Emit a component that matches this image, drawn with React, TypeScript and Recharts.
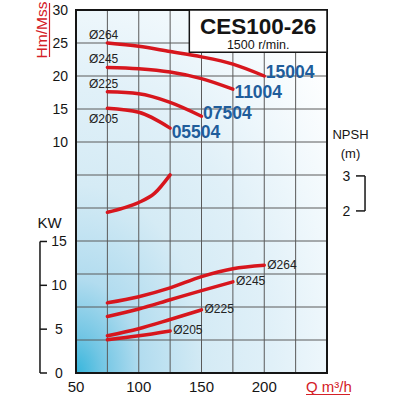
import React from "react";
import {
  ComposedChart,
  Line,
  XAxis,
  YAxis,
  CartesianGrid,
  ReferenceArea,
  ReferenceLine
} from "recharts";

// flow rate Q (m3/h) where the curves were read
const flow = [75, 100, 125, 150, 175, 200];

const diameters = ["Ø264", "Ø245", "Ø225", "Ø205"];
const models = ["15004", "11004", "07504", "05504"];

// head H (m)
const head264 = [25.0, 24.5, 23.7, 22.9, 21.8, 20.0];
const head245 = [21.3, 21.1, 20.6, 19.6, 18.0];
const head225 = [17.6, 17.3, 16.0, 13.9];
const head205 = [15.1, 14.5, 12.1];

// power (KW)
const power264 = [8.0, 8.7, 9.7, 11.0, 11.9, 12.3];
const power245 = [6.45, 7.3, 8.35, 9.4, 10.4];
const power225 = [4.25, 5.05, 6.1, 7.2];
const power205 = [3.8, 4.25, 4.8];

// NPSH (m)
const npshFlow = [75, 87.5, 100, 112.5, 125];
const npshValues = [1.96, 2.08, 2.24, 2.5, 3.03];

// axes
const flowTicks = [50, 75, 100, 125, 150, 175, 200, 225, 250];
const flowLabels = [50, 100, 150, 200];
const headTicks = [-25, -20, -15, -10, -5, 0, 5, 10, 15, 20, 25, 30];
const headLabels = [10, 15, 20, 25, 30];
const powerTicks = [0, 5, 10, 15];
const npshTicks = [2, 3];

const RED = "#d7161d";
const AXIS_RED = "#d42027";
const BLUE = "#1f5d9b";
const INK = "#151515";

const toPoints = (qs: number[], vs: number[]) =>
  vs.map((v, i) => ({ q: qs[i], v }));

const headCurves = [head264, head245, head225, head205];
const powerCurves = [power264, power245, power225, power205];

// label offsets (px) for each head curve: start label and end label
const headLabelOffsets = [
  { startDy: -4, endDy: 1.5 },
  { startDy: -4, endDy: 8.5 },
  { startDy: -4, endDy: 3 },
  { startDy: 15, endDy: 9.5 }
];

const PowerTick = ({ y, payload }: any) => (
  <g>
    <line x1={40} x2={47} y1={y} y2={y} stroke={INK} strokeWidth={1.5} />
    <text
      x={59}
      y={y}
      textAnchor='middle'
      dominantBaseline='central'
      fontSize={14}
      fill={INK}
    >
      {payload.value}
    </text>
  </g>
);

const NpshTick = ({ y, payload }: any) => (
  <g>
    <line x1={356} x2={365} y1={y} y2={y} stroke={INK} strokeWidth={1.5} />
    <text
      x={346.5}
      y={y}
      textAnchor='middle'
      dominantBaseline='central'
      fontSize={14}
      fill={INK}
    >
      {payload.value}
    </text>
  </g>
);

const TitleLabel = (props: any) => {
  const { x, y, width } = props.viewBox;
  const cx = x + width / 2;
  return (
    <g>
      <text
        x={cx}
        y={y + 24}
        textAnchor='middle'
        fontSize={22.5}
        fontWeight='bold'
        fill={INK}
      >
        CES100-26
      </text>
      <text x={cx} y={y + 38.5} textAnchor='middle' fontSize={12.5} fill={INK}>
        1500 r/min.
      </text>
    </g>
  );
};

const App = () => {
  return (
    <div
      style={{
        position: "absolute",
        left: 0,
        top: 0,
        width: 400,
        height: 400,
        background: "#fff",
        fontFamily: "'Liberation Sans', Arial, sans-serif"
      }}
    >
      <ComposedChart
        width={400}
        height={400}
        margin={{ top: 10, right: 0, bottom: 0, left: 0 }}
      >
        <defs>
          <radialGradient id='bg' cx='0' cy='1' r='1.3'>
            <stop offset='0' stopColor='#36b6dc' />
            <stop offset='0.08' stopColor='#72c6e4' />
            <stop offset='0.2' stopColor='#b2dcef' />
            <stop offset='0.4' stopColor='#d5ebf5' />
            <stop offset='0.6' stopColor='#e0f0f8' />
            <stop offset='0.8' stopColor='#f0f8fc' />
            <stop offset='1' stopColor='#ffffff' />
          </radialGradient>
        </defs>

        <CartesianGrid
          yAxisId='h'
          fill='url(#bg)'
          stroke='#5a5a5a'
          strokeWidth={1}
        />

        <XAxis
          type='number'
          dataKey='q'
          domain={[50, 250]}
          ticks={flowTicks}
          interval={0}
          allowDataOverflow
          height={27}
          axisLine={false}
          tickLine={false}
          tickSize={0}
          tickMargin={8}
          tick={{ fontSize: 15, fill: INK }}
          tickFormatter={(v: number) =>
            flowLabels.includes(v) ? String(v) : ""
          }
        />
        <YAxis
          yAxisId='h'
          orientation='left'
          width={36}
          domain={[-25, 30]}
          ticks={headTicks}
          interval={0}
          allowDataOverflow
          axisLine={false}
          tickLine={false}
          tickSize={0}
          tickMargin={8}
          tick={{ fontSize: 14, fill: INK }}
          tickFormatter={(v: number) =>
            headLabels.includes(v) ? String(v) : ""
          }
        />
        <YAxis
          yAxisId='kw'
          orientation='left'
          width={40}
          domain={[0, 41.4]}
          ticks={powerTicks}
          interval={0}
          allowDataOverflow
          axisLine={false}
          tickLine={false}
          tick={<PowerTick />}
        />
        <YAxis
          yAxisId='npsh'
          orientation='right'
          width={73}
          domain={[-2.63, 7.74]}
          ticks={npshTicks}
          interval={0}
          allowDataOverflow
          axisLine={false}
          tickLine={false}
          tick={<NpshTick />}
        />

        {/* plot frame */}
        <ReferenceArea
          yAxisId='h'
          x1={50}
          x2={250}
          y1={-25}
          y2={30}
          fill='none'
          fillOpacity={0}
          stroke={INK}
          strokeWidth={2}
          ifOverflow='visible'
        />
        {/* title box */}
        <ReferenceArea
          yAxisId='h'
          x1={140.3}
          x2={250}
          y1={23.6}
          y2={30}
          fill='#ffffff'
          fillOpacity={1}
          stroke={INK}
          strokeWidth={1.5}
          ifOverflow='visible'
          label={(p: any) => <TitleLabel {...p} />}
        />

        {/* axis brackets */}
        <ReferenceLine
          yAxisId='kw'
          segment={[
            { x: 21.3, y: 0 },
            { x: 21.3, y: 15 }
          ]}
          stroke={INK}
          strokeWidth={1.5}
          ifOverflow='visible'
        />
        <ReferenceLine
          yAxisId='npsh'
          segment={[
            { x: 280.3, y: 2 },
            { x: 280.3, y: 3 }
          ]}
          stroke={INK}
          strokeWidth={1.5}
          ifOverflow='visible'
        />

        {headCurves.map((curve, k) => {
          const last = curve.length - 1;
          const off = headLabelOffsets[k];
          return (
            <Line
              key={`h-${k}`}
              yAxisId='h'
              data={toPoints(flow, curve)}
              dataKey='v'
              type='monotone'
              stroke={RED}
              strokeWidth={3.5}
              strokeLinecap='round'
              dot={false}
              isAnimationActive={false}
              label={(p: any) => {
                if (p.index === 0) {
                  return (
                    <text
                      key={`hs-${k}`}
                      x={p.x - 18.5}
                      y={p.y + off.startDy}
                      fontSize={12}
                      fill='#222'
                    >
                      {diameters[k]}
                    </text>
                  );
                }
                if (p.index === last) {
                  return (
                    <text
                      key={`he-${k}`}
                      x={p.x + 1.5}
                      y={p.y + off.endDy}
                      fontSize={17.5}
                      fontWeight='bold'
                      fill={BLUE}
                    >
                      {models[k]}
                    </text>
                  );
                }
                return <g key={`hn-${k}-${p.index}`} />;
              }}
            />
          );
        })}

        {powerCurves.map((curve, k) => {
          const last = curve.length - 1;
          return (
            <Line
              key={`p-${k}`}
              yAxisId='kw'
              data={toPoints(flow, curve)}
              dataKey='v'
              type='monotone'
              stroke={RED}
              strokeWidth={3.5}
              strokeLinecap='round'
              dot={false}
              isAnimationActive={false}
              label={(p: any) =>
                p.index === last ? (
                  <text
                    key={`pe-${k}`}
                    x={p.x + 3}
                    y={p.y + 3.5}
                    fontSize={12}
                    fill='#222'
                  >
                    {diameters[k]}
                  </text>
                ) : (
                  <g key={`pn-${k}-${p.index}`} />
                )
              }
            />
          );
        })}

        <Line
          yAxisId='npsh'
          data={toPoints(npshFlow, npshValues)}
          dataKey='v'
          type='monotone'
          stroke={RED}
          strokeWidth={3.5}
          strokeLinecap='round'
          dot={false}
          isAnimationActive={false}
        />

        {/* axis titles */}
        <text
          transform='translate(47,30) rotate(-90)'
          textAnchor='middle'
          fontSize={15.5}
          fill={AXIS_RED}
        >
          Hm/Mss
        </text>
        <line x1={49.5} x2={49.5} y1={3} y2={57} stroke={AXIS_RED} strokeWidth={1.2} />
        <text x={49.5} y={228.3} textAnchor='middle' fontSize={15} fill={INK}>
          KW
        </text>
        <text x={350.5} y={139} textAnchor='middle' fontSize={13} fill={INK}>
          NPSH
        </text>
        <text x={350.5} y={158.3} textAnchor='middle' fontSize={13} fill={INK}>
          (m)
        </text>
        <text x={306} y={391.7} fontSize={15} fill={AXIS_RED}>
          Q m³/h
        </text>
        <line x1={306} x2={350} y1={394.5} y2={394.5} stroke={AXIS_RED} strokeWidth={1.2} />
      </ComposedChart>
    </div>
  );
};

export default App;
